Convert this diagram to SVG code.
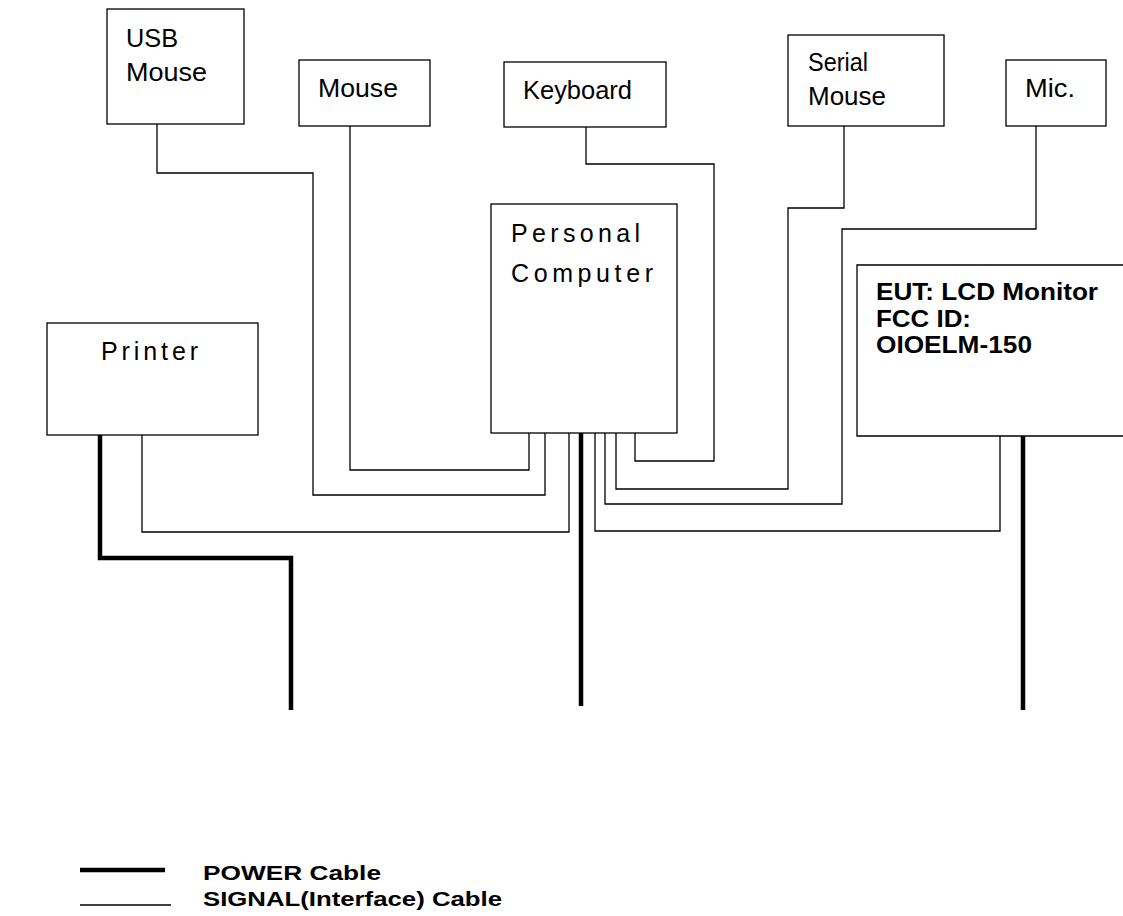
<svg xmlns="http://www.w3.org/2000/svg" width="1123" height="916" viewBox="0 0 1123 916">
<style>
.box{fill:#fff;stroke:#000;stroke-width:1.3}
.sig{fill:none;stroke:#000;stroke-width:1.3}
.pwr{fill:none;stroke:#000;stroke-width:4.5}
.lbl{font-family:"Liberation Sans",Arial,sans-serif;font-size:25px;fill:#000}
.sp{font-family:"Liberation Sans",Arial,sans-serif;font-size:25px;fill:#000}
.bold{font-family:"Liberation Sans",Arial,sans-serif;font-size:23px;font-weight:bold;fill:#000}
.leg{font-family:"Liberation Sans",Arial,sans-serif;font-size:21px;font-weight:bold;fill:#000}
</style>
<rect width="1123" height="916" fill="#fff"/>
<g id="connectors">
<path class="sig" d="M157,124 V173 H313 V495 H545 V433"/>
<path class="sig" d="M350,126 V470 H529 V433"/>
<path class="sig" d="M586,127 V164 H714 V461 H635 V433"/>
<path class="sig" d="M844,126 V208 H788 V489 H616 V433"/>
<path class="sig" d="M1036,126 V229 H842 V504 H605 V433"/>
<path class="sig" d="M1000,430 V531 H595 V433"/>
<path class="sig" d="M142,435 V532 H569 V433"/>
<path class="pwr" d="M100,435 V558 H291 V710"/>
<path class="pwr" d="M581,433 V706"/>
<path class="pwr" d="M1023,430 V710"/>
</g>
<g id="usb-mouse">
<rect class="box" x="107" y="9" width="137" height="115"/>
<text class="lbl" x="126" y="47" textLength="52" lengthAdjust="spacingAndGlyphs">USB</text>
<text class="lbl" x="126" y="81" textLength="81" lengthAdjust="spacingAndGlyphs">Mouse</text>
</g>
<g id="mouse">
<rect class="box" x="299" y="60" width="131" height="66"/>
<text class="lbl" x="318" y="97" textLength="80" lengthAdjust="spacingAndGlyphs">Mouse</text>
</g>
<g id="keyboard">
<rect class="box" x="504" y="62" width="162" height="65"/>
<text class="lbl" x="523" y="99" textLength="109" lengthAdjust="spacingAndGlyphs">Keyboard</text>
</g>
<g id="serial-mouse">
<rect class="box" x="788" y="35" width="156" height="91"/>
<text class="lbl" x="808" y="71" textLength="60" lengthAdjust="spacingAndGlyphs">Serial</text>
<text class="lbl" x="808" y="105" textLength="78" lengthAdjust="spacingAndGlyphs">Mouse</text>
</g>
<g id="mic">
<rect class="box" x="1006" y="60" width="100" height="66"/>
<text class="lbl" x="1025" y="97" textLength="50" lengthAdjust="spacingAndGlyphs">Mic.</text>
</g>
<g id="pc">
<rect class="box" x="491" y="204" width="186" height="229"/>
<text class="sp" x="511" y="242" textLength="129" lengthAdjust="spacing">Personal</text>
<text class="sp" x="511" y="282" textLength="142" lengthAdjust="spacing">Computer</text>
</g>
<g id="printer">
<rect class="box" x="47" y="323" width="211" height="112"/>
<text class="sp" x="101" y="360" font-size="24" textLength="97" lengthAdjust="spacing">Printer</text>
</g>
<g id="eut">
<path class="box" d="M1124,265 H857 V436 H1124"/>
<text class="bold" x="876" y="300" textLength="222" lengthAdjust="spacingAndGlyphs">EUT: LCD Monitor</text>
<text class="bold" x="876" y="327" textLength="95" lengthAdjust="spacingAndGlyphs">FCC ID:</text>
<text class="bold" x="876" y="353" textLength="156" lengthAdjust="spacingAndGlyphs">OIOELM-150</text>
</g>
<g id="legend">
<line x1="80" y1="870" x2="165" y2="870" stroke="#000" stroke-width="4.5"/>
<line x1="80" y1="905" x2="171" y2="905" stroke="#000" stroke-width="1.3"/>
<text class="leg" x="203" y="880" textLength="178" lengthAdjust="spacingAndGlyphs">POWER Cable</text>
<text class="leg" x="203" y="906" textLength="299" lengthAdjust="spacingAndGlyphs">SIGNAL(Interface) Cable</text>
</g>
</svg>
